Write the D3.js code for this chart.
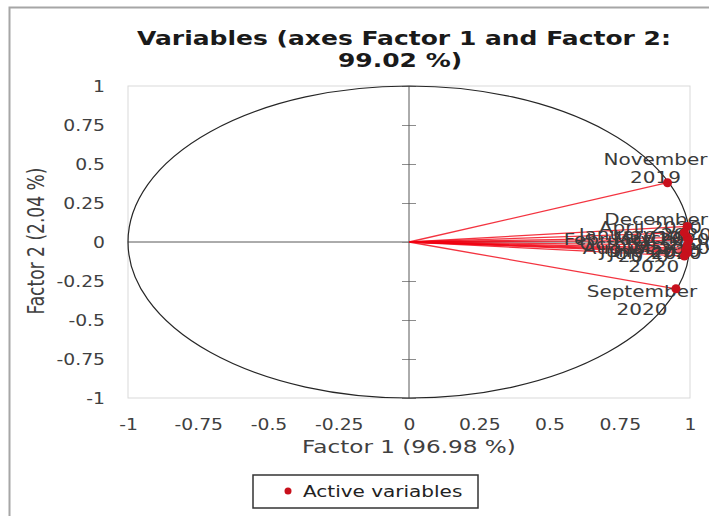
<!DOCTYPE html>
<html>
<head>
<meta charset="utf-8">
<script src="https://cdn.jsdelivr.net/npm/d3@7"></script>
<style>
  body { margin: 0; background: #fff; }
  svg { display: block; font-family: "DejaVu Sans", sans-serif; }
</style>
</head>
<body>
<svg id="chart" width="709" height="516"></svg>
<script>
/* Correlation circle: variables on Factor 1 / Factor 2 */

// Variables (months) and their coordinates on the two factors
const variables = [
    'November 2019', 'December 2019', 'January 2020', 'February 2020',
    'March 2020', 'April 2020', 'May 2020', 'June 2020',
    'July 2020', 'August 2020', 'September 2020', 'October 2020'
];
const factor1 = [0.92, 0.99, 0.99, 0.995, 0.99, 0.98, 0.985, 0.99, 0.99, 0.98, 0.95, 0.99];
const factor2 = [0.38, 0.10, 0.03, 0.01, -0.04, 0.06, -0.05, -0.06, -0.07, -0.09, -0.30, -0.02];

const tickValues = [-1, -0.75, -0.5, -0.25, 0, 0.25, 0.5, 0.75, 1];

const width = 709, height = 516;
const margin = { top: 86, right: 19, bottom: 118, left: 128 };
const innerWidth = width - margin.left - margin.right;
const innerHeight = height - margin.top - margin.bottom;

// the original picture is stretched sideways, text included
const STRETCH = 1.25;
function wide(sel) {
    sel.each(function() {
        const t = d3.select(this);
        const tx = +t.attr('x') || 0, ty = +t.attr('y') || 0;
        t.attr('x', null).attr('y', null)
            .attr('transform', `translate(${tx}, ${ty}) scale(${STRETCH}, 1)`);
    });
    return sel;
}

const svg = d3.select('#chart');

// outer frame
svg.append('rect')
    .attr('x', 9.5).attr('y', 7.5)
    .attr('width', 740).attr('height', 540)
    .attr('fill', 'none')
    .attr('stroke', '#a6a6a6')
    .attr('stroke-width', 2);

const x = d3.scaleLinear().domain([-1, 1]).range([0, innerWidth]);
const y = d3.scaleLinear().domain([-1, 1]).range([innerHeight, 0]);

const g = svg.append('g')
    .attr('transform', `translate(${margin.left}, ${margin.top})`);

// plot frame
g.append('rect')
    .attr('width', innerWidth).attr('height', innerHeight)
    .attr('fill', 'none')
    .attr('stroke', '#d9d9d9');

// outer tick labels
const fmt = d => String(d);
const xAxis = g.append('g')
    .attr('transform', `translate(0, ${innerHeight})`)
    .call(d3.axisBottom(x).tickValues(tickValues).tickSize(0).tickPadding(0).tickFormat(fmt));
xAxis.select('.domain').remove();
xAxis.selectAll('text')
    .attr('y', 32).attr('dy', null)
    .style('font-size', '15px').style('font-family', '"DejaVu Sans", sans-serif')
    .attr('fill', '#404040')
    .call(wide);

const yAxis = g.append('g')
    .call(d3.axisLeft(y).tickValues(tickValues).tickSize(0).tickPadding(0).tickFormat(fmt));
yAxis.select('.domain').remove();
yAxis.selectAll('text')
    .attr('x', -23).attr('y', 5).attr('dy', null)
    .style('font-size', '15px').style('font-family', '"DejaVu Sans", sans-serif')
    .attr('fill', '#404040')
    .call(wide);

// central axes
g.append('line')
    .attr('x1', 0).attr('x2', innerWidth)
    .attr('y1', y(0)).attr('y2', y(0))
    .attr('stroke', '#595959');

const cy = g.append('g').attr('transform', `translate(${x(0) + 7}, 0)`)
    .call(d3.axisLeft(y).tickValues(tickValues).tickSizeInner(14).tickSizeOuter(0)
        .tickFormat(''));
cy.selectAll('line').attr('stroke', '#8c8c8c');
cy.select('.domain').attr('stroke', 'none');
g.append('line')
    .attr('x1', x(0)).attr('x2', x(0))
    .attr('y1', 0).attr('y2', innerHeight)
    .attr('stroke', '#595959');

// unit circle (stretched by the axis scales)
g.append('ellipse')
    .attr('cx', x(0)).attr('cy', y(0))
    .attr('rx', x(1) - x(0)).attr('ry', y(0) - y(1))
    .attr('fill', 'none')
    .attr('stroke', '#262626')
    .attr('stroke-width', 1.2);

const data = variables.map((name, i) => ({ name, f1: factor1[i], f2: factor2[i] }));

// vectors
g.selectAll('.vec')
    .data(data)
    .enter()
    .append('line')
    .attr('class', 'vec')
    .attr('x1', x(0)).attr('y1', y(0))
    .attr('x2', d => x(d.f1)).attr('y2', d => y(d.f2))
    .attr('stroke', '#f00010')
    .attr('stroke-opacity', 0.8)
    .attr('stroke-width', 1.3);

// label placement around each point: [dx, dy of first line, wrapped on two lines]
const labelPlacement = {
    'November 2019': [-12, -24, true],
    'December 2019': [-31, -7, true],
    'April 2020': [-34, -6, false],
    'January 2020': [-42, -3, false],
    'February 2020': [-52, -1, false],
    'October 2020': [-39, -1, false],
    'March 2020': [-44, -10, true],
    'May 2020': [-32, -2, true],
    'June 2020': [-37, 0, false],
    'July 2020': [-32, 0, false],
    'August 2020': [-38, -8, false],
    'September 2020': [-34, 2, true]
};

const labels = g.selectAll('.lbl')
    .data(data)
    .enter()
    .append('text')
    .attr('class', 'lbl')
    .attr('text-anchor', 'middle')
    .attr('fill', '#3a3a3a')
    .style('font-size', '16px')
    .attr('x', d => x(d.f1) + labelPlacement[d.name][0])
    .attr('y', d => y(d.f2) + labelPlacement[d.name][1] + 6);
labels.each(function(d) {
    const t = d3.select(this);
    const parts = d.name.split(' ');
    if (labelPlacement[d.name][2]) {
        t.append('tspan').attr('x', 0).text(parts[0]);
        t.append('tspan').attr('x', 0).attr('dy', 18).text(parts[1]);
    } else {
        t.text(d.name);
    }
});
labels.call(wide);

// points
g.selectAll('.pt')
    .data(data)
    .enter()
    .append('circle')
    .attr('class', 'pt')
    .attr('cx', d => x(d.f1)).attr('cy', d => y(d.f2))
    .attr('r', 4.5)
    .attr('fill', '#c8101c');

// title
svg.append('text')
    .attr('x', 404).attr('y', 45)
    .attr('text-anchor', 'middle')
    .style('font-size', '20px').style('font-weight', 'bold')
    .attr('fill', '#1a1a1a')
    .text('Variables (axes Factor 1 and Factor 2:')
    .call(wide);
svg.append('text')
    .attr('x', 400).attr('y', 67)
    .attr('text-anchor', 'middle')
    .style('font-size', '20px').style('font-weight', 'bold')
    .attr('fill', '#1a1a1a')
    .text('99.02 %)')
    .call(wide);

// axis titles
svg.append('text')
    .attr('x', 409).attr('y', 453)
    .attr('text-anchor', 'middle')
    .style('font-size', '18.5px')
    .attr('fill', '#404040')
    .text('Factor 1 (96.98 %)')
    .call(wide);
svg.append('text')
    .attr('transform', `translate(44, 241) scale(${STRETCH}, 1) rotate(-90)`)
    .attr('text-anchor', 'middle')
    .style('font-size', '19px')
    .style('font-family', '"DejaVu Sans Condensed", "Liberation Sans Narrow", sans-serif')
    .attr('fill', '#404040')
    .text('Factor 2 (2.04 %)');

// legend
const legend = svg.append('g').attr('transform', 'translate(253, 475)');
legend.append('rect')
    .attr('width', 225).attr('height', 33)
    .attr('fill', '#fff')
    .attr('stroke', '#333')
    .attr('stroke-width', 1.5);
legend.append('circle')
    .attr('cx', 35).attr('cy', 16).attr('r', 3.5)
    .attr('fill', '#c8101c');
legend.append('text')
    .attr('x', 50).attr('y', 22)
    .style('font-size', '16px')
    .attr('fill', '#222')
    .text('Active variables')
    .call(wide);
</script>
</body>
</html>
